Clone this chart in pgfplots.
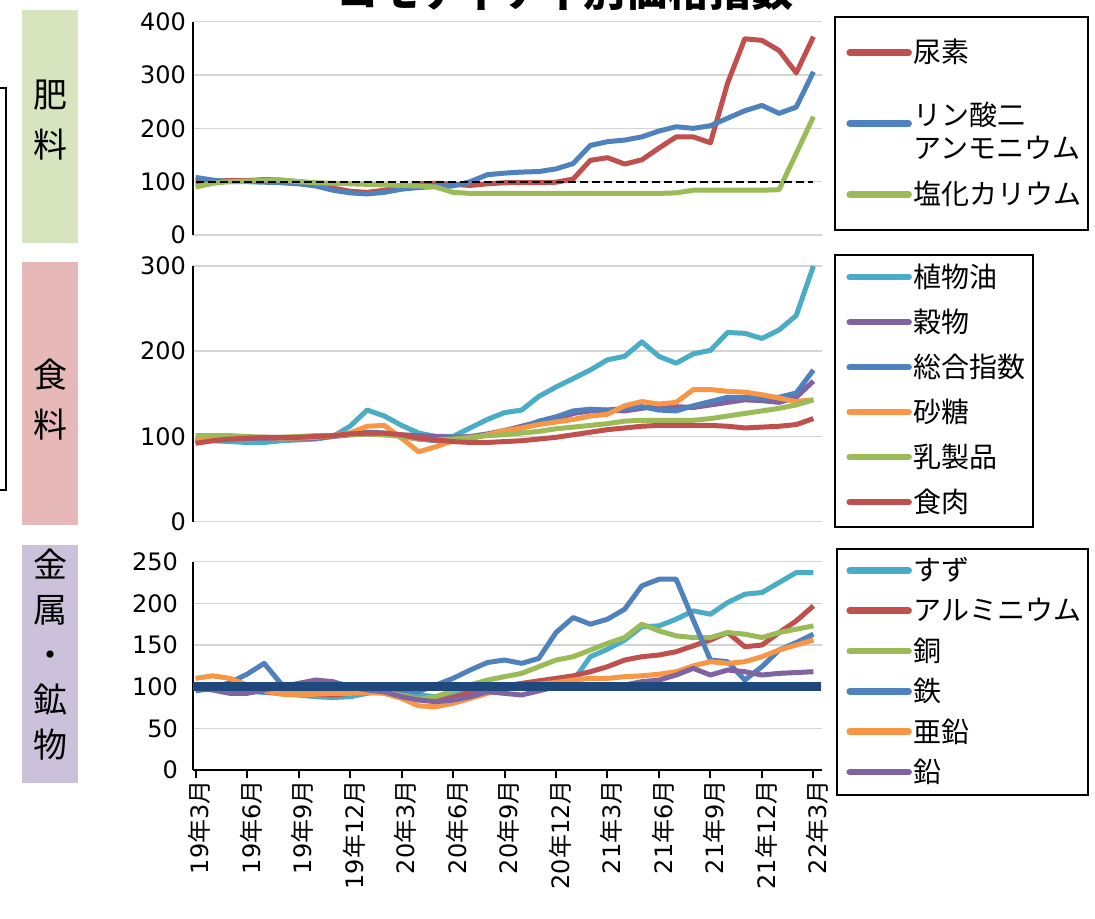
\documentclass[border=0pt]{standalone}
\usepackage{fontspec}
\usepackage{pgfplots}
\usepackage{pgfplotstable}
\pgfplotsset{compat=1.18}
\setmainfont{DejaVu Sans}
\newfontfamily\jp{Noto Sans CJK JP}

\definecolor{cRed}{HTML}{C0504D}
\definecolor{cBlue}{HTML}{4F81BD}
\definecolor{cGreen}{HTML}{9BBB59}
\definecolor{cPurple}{HTML}{8064A2}
\definecolor{cAqua}{HTML}{4BACC6}
\definecolor{cOrange}{HTML}{F79646}
\definecolor{cNavy}{HTML}{1F497D}
\definecolor{boxGreen}{HTML}{D7E4BD}
\definecolor{boxPink}{HTML}{E6B9B8}
\definecolor{boxPurple}{HTML}{CCC1DA}

\newcommand\ym[2]{#1{\jp 年}#2{\jp 月}}

% monthly indices, month 0 = 2019/3
\pgfplotstableread{
m urea dap potash
0 100 108 90
1 101 103 97
2 102 100 100
3 102 100 101
4 104 99 103
5 103 98 103
6 100 96 100
7 97 92 98
8 88 84 97
9 82 79 96
10 80 77 95
11 84 80 94
12 90 86 93
13 96 89 92
14 97 91 90
15 95 92 80
16 93 100 78
17 96 113 78
18 98 116 78
19 98 118 78
20 98 119 78
21 99 124 78
22 105 134 78
23 140 168 78
24 145 175 78
25 133 178 78
26 141 184 78
27 163 195 78
28 184 203 79
29 184 200 84
30 173 205 84
31 285 219 84
32 368 233 84
33 365 243 84
34 346 228 85
35 304 240 153
36 372 306 222
}\fert

\pgfplotstableread{
m veg grain total sugar dairy meat
0 96 94 95 95 101 92
1 95 96 97 97 101 95
2 94 97 98 98 101 97
3 93 98 98 99 100 98
4 93 98 99 99 99 99
5 95 98 98 98 99 99
6 96 97 98 98 100 99
7 97 98 99 99 101 100
8 100 100 101 101 101 101
9 112 102 103 104 102 103
10 131 103 105 112 103 104
11 124 102 104 113 102 104
12 113 102 100 98 100 102
13 104 101 97 82 97 98
14 100 100 95 88 96 96
15 100 99 95 95 97 94
16 110 100 98 98 99 93
17 120 103 102 102 101 93
18 128 107 106 107 102 94
19 131 112 110 110 104 95
20 147 117 118 114 106 97
21 158 120 123 117 109 99
22 168 127 130 120 111 102
23 178 130 132 124 113 105
24 190 131 131 126 115 108
25 194 130 133 136 118 110
26 211 133 135 141 119 112
27 194 136 131 138 119 113
28 186 135 130 140 119 113
29 197 134 136 155 119 113
30 201 137 141 155 121 113
31 222 140 146 153 124 112
32 221 143 146 152 127 110
33 215 142 145 149 130 111
34 225 140 146 145 133 112
35 242 146 151 141 137 114
36 300 165 178 143 143 121
}\food

\pgfplotstableread{
m tin alu copper iron zinc lead
0 100 98 100 95 110 98
1 98 97 98 98 113 96
2 96 96 97 105 110 92
3 95 95 98 115 102 92
4 93 94 96 128 95 96
5 92 92 95 103 91 100
6 90 92 94 100 90 104
7 88 91 93 98 91 108
8 87 90 93 97 92 106
9 88 92 95 96 92 100
10 92 94 96 98 93 96
11 95 95 95 99 92 94
12 93 90 90 96 86 88
13 90 85 85 94 77 84
14 88 83 88 102 76 82
15 92 87 95 110 80 84
16 98 93 102 120 86 88
17 100 98 108 129 92 94
18 101 101 112 132 98 92
19 100 104 116 128 101 90
20 102 107 124 134 103 95
21 104 110 132 165 105 100
22 107 113 136 183 108 102
23 136 118 144 175 110 100
24 145 124 152 181 110 100
25 156 132 159 193 112 102
26 172 136 175 221 113 106
27 173 138 167 229 115 108
28 181 142 161 229 118 114
29 191 149 159 180 125 122
30 187 156 159 132 130 114
31 201 165 165 130 128 120
32 211 148 163 108 130 118
33 213 150 159 124 136 114
34 225 165 165 144 144 116
35 237 179 169 153 150 117
36 237 197 173 163 156 118
}\metal

\pgfplotsset{
  panel/.style={
    scale only axis, width=314.5pt,
    xmin=-0.15, xmax=36.5,
    axis y line*=left,
    axis line style={-, black, line width=1pt},
    ymajorgrids, grid style={draw=black!17, line width=0.75pt},
    ytick style={draw=none},
    tick label style={font=\fontsize{12}{14}\selectfont},
    /pgf/number format/assume math mode=true,
    clip=false,
    every axis plot/.append style={line width=2.5pt, line join=round, mark=none},
    legend cell align=left,
    legend image code/.code={\draw[##1, line width=3.25pt, line cap=round] (0pt,0pt) -- (29.5pt,0pt);},
  },
  leg/.style 2 args={
    legend style={at={(1.03816,#1)}, anchor=north west, draw=none, fill=none,
      inner sep=0pt, row sep=0pt, column sep=1pt,
      font=\jp\fontsize{14}{16.7}\selectfont,
      nodes={minimum height=#2, inner sep=0pt}},
  },
}

\begin{document}
\begin{tikzpicture}
\path[use as bounding box] (0pt,0pt) rectangle (547.5pt,459pt);
\clip (0pt,0pt) rectangle (547.5pt,459pt);

% category boxes on the left
\fill[boxGreen] (11pt,337.5pt) rectangle (39pt,454pt);
\fill[boxPink] (11pt,196.5pt) rectangle (39pt,328pt);
\fill[boxPurple] (11pt,67.5pt) rectangle (39pt,186.5pt);
\node[align=center, font=\jp\fontsize{17}{25}\selectfont] at (25pt,399pt) {肥\\料};
\node[align=center, font=\jp\fontsize{17}{25}\selectfont] at (25pt,259pt) {食\\料};
\node[align=center, font=\jp\fontsize{17}{22.5}\selectfont] at (25pt,131.5pt) {金\\属\\・\\鉱\\物};
\draw[line width=1pt] (0pt,415pt) -- (3pt,415pt) -- (3pt,214pt) -- (0pt,214pt);

% title, running off the top edge
\node[anchor=base, font=\jp\bfseries\fontsize{21}{25}\selectfont] at (282.5pt,455.5pt) {コモディティ別価格指数};

% fertilizer
\begin{axis}[panel, leg={1.02344}{35.5pt},
  at={(96.5pt,341.5pt)}, anchor=south west, height=106.65pt,
  axis x line=none, xtick=\empty,
  ymin=0, ymax=400, ytick={0,100,200,300,400}]
\addplot[cRed] table[x=m, y=urea] {\fert};
\addlegendentry{尿素}
\addplot[cBlue] table[x=m, y=dap] {\fert};
\addlegendentry{\begin{tabular}[c]{@{}l@{}}リン酸二\\アンモニウム\end{tabular}}
\addplot[cGreen] table[x=m, y=potash] {\fert};
\addlegendentry{塩化カリウム}
\addplot[black, line width=1pt, dash pattern=on 4pt off 2pt, forget plot] coordinates {(0,100) (36,100)};
\end{axis}

% food
\begin{axis}[panel, leg={1.04615}{22.5pt},
  at={(96.5pt,198.15pt)}, anchor=south west, height=127.85pt,
  axis x line=none, xtick=\empty,
  ymin=0, ymax=300, ytick={0,100,200,300}]
\addplot[cAqua] table[x=m, y=veg] {\food};
\addlegendentry{植物油}
\addplot[cPurple] table[x=m, y=grain] {\food};
\addlegendentry{穀物}
\addplot[cBlue] table[x=m, y=total] {\food};
\addlegendentry{総合指数}
\addplot[cOrange] table[x=m, y=sugar] {\food};
\addlegendentry{砂糖}
\addplot[cGreen] table[x=m, y=dairy] {\food};
\addlegendentry{乳製品}
\addplot[cRed] table[x=m, y=meat] {\food};
\addlegendentry{食肉}
\end{axis}

% metals and minerals
\begin{axis}[panel, leg={1.05713}{20.17pt},
  at={(96.5pt,74pt)}, anchor=south west, height=104.15pt,
  axis x line*=bottom,
  ymin=0, ymax=250, ytick={0,50,100,150,200,250},
  xtick={0,3,...,36},
  xticklabels={\ym{19}{3},\ym{19}{6},\ym{19}{9},\ym{19}{12},\ym{20}{3},\ym{20}{6},\ym{20}{9},\ym{20}{12},\ym{21}{3},\ym{21}{6},\ym{21}{9},\ym{21}{12},\ym{22}{3}},
  xtick style={draw=black, line width=1pt},
  tick align=outside, major tick length=4pt,
  xticklabel style={rotate=90, anchor=east, inner sep=1pt, yshift=-2pt}]
\addplot[cAqua] table[x=m, y=tin] {\metal};
\addlegendentry{すず}
\addplot[cRed] table[x=m, y=alu] {\metal};
\addlegendentry{アルミニウム}
\addplot[cGreen] table[x=m, y=copper] {\metal};
\addlegendentry{銅}
\addplot[cBlue] table[x=m, y=iron] {\metal};
\addlegendentry{鉄}
\addplot[cOrange] table[x=m, y=zinc] {\metal};
\addlegendentry{亜鉛}
\addplot[cPurple] table[x=m, y=lead] {\metal};
\addlegendentry{鉛}
\addplot[cNavy, line width=4.25pt, forget plot] coordinates {(-0.15,100) (36.45,100)};
\end{axis}

% legend frames
\draw[line width=1pt] (417.5pt,450.65pt) rectangle (544pt,344pt);
\draw[line width=1pt] (417.5pt,331.5pt) rectangle (516.5pt,195.65pt);
\draw[line width=1pt] (418.35pt,184.35pt) rectangle (544pt,61.5pt);
\end{tikzpicture}
\end{document}
